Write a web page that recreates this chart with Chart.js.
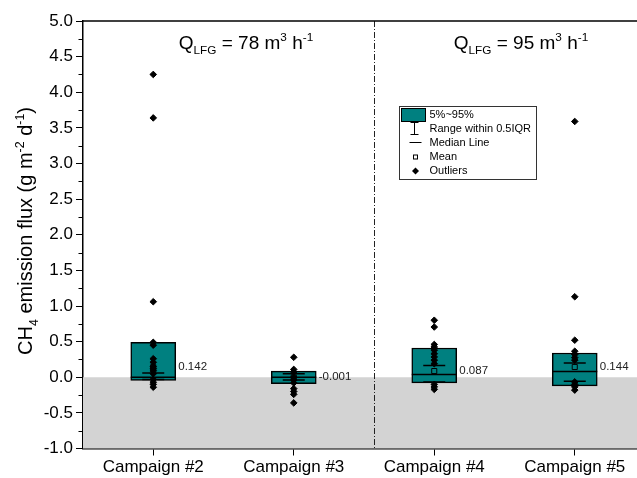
<!DOCTYPE html>
<html>
<head>
<meta charset="utf-8">
<script src="https://cdn.jsdelivr.net/npm/chart.js@4.4.0/dist/chart.umd.min.js"></script>
<style>
  html, body { margin: 0; padding: 0; background: #fff; overflow: hidden; }
  canvas { display: block; }
</style>
</head>
<body>
<canvas id="fluxChart" width="650" height="478"></canvas>
<script>
// box plot stats per campaign (g m-2 d-1)
var campaigns = ['Campaign #2', 'Campaign #3', 'Campaign #4', 'Campaign #5'];
var boxLow  = [-0.045, -0.09, -0.08, -0.12];   // 5%
var boxHigh = [0.49, 0.085, 0.41, 0.34];        // 95%
var medians = [0.0, 0.0, 0.04, 0.08];
var capLow  = [-0.03, -0.04, -0.065, -0.055];
var capHigh = [0.06, 0.05, 0.165, 0.2];
var means   = [0.142, -0.001, 0.087, 0.144];
var meanLabels = ['0.142', '-0.001', '0.087', '0.144'];

var outliers2 = [4.25, 3.64, 1.06, 0.49, 0.45, 0.26, 0.21, 0.15, 0.12, 0.09, 0.05, -0.03, -0.07, -0.1, -0.14];
var outliers3 = [0.28, 0.11, 0.075, 0.0, -0.04, -0.08, -0.16, -0.2, -0.24, -0.36];
var outliers4 = [0.8, 0.705, 0.46, 0.425, 0.38, 0.33, 0.285, 0.24, 0.19, -0.1, -0.135, -0.17];
var outliers5 = [3.59, 1.13, 0.52, 0.365, 0.32, 0.275, 0.24, -0.065, -0.1, -0.135, -0.18];

var yMin = -1, yMax = 5, yStep = 0.5;
var dividerAt = 1.57;   // between #3 and #4, in category units

var fam = "'Liberation Sans', Arial, sans-serif";
var teal = '#008080';

var outlierPts = [];
[outliers2, outliers3, outliers4, outliers5].forEach(function(list, i) {
  list.forEach(function(v) { outlierPts.push({ x: campaigns[i], y: v }); });
});
var meanPts = means.map(function(v, i) { return { x: campaigns[i], y: v }; });

function drawRich(ctx, parts, x, y, size, align) {
  var small = size * 0.62;
  var widths = parts.map(function(p) {
    ctx.font = (p[1] ? small : size) + 'px ' + fam;
    return ctx.measureText(p[0]).width;
  });
  var total = widths.reduce(function(a, b) { return a + b; }, 0);
  var cx = align === 'center' ? x - total / 2 : x;
  ctx.textAlign = 'left';
  ctx.textBaseline = 'alphabetic';
  parts.forEach(function(p, i) {
    ctx.font = (p[1] ? small : size) + 'px ' + fam;
    var dy = p[1] === -1 ? size * 0.28 : (p[1] === 1 ? -size * 0.42 : 0);
    ctx.fillText(p[0], cx, y + dy);
    cx += widths[i];
  });
}

var decor = {
  id: 'decor',
  beforeDatasetsDraw: function(chart) {
    var ctx = chart.ctx, a = chart.chartArea, xs = chart.scales.x, ys = chart.scales.y;
    ctx.save();
    // negative flux band
    ctx.fillStyle = '#d3d3d3';
    var y0 = ys.getPixelForValue(0);
    ctx.fillRect(a.left, y0, a.right - a.left, ys.getPixelForValue(yMin) - y0);
    // dash-dot separator
    var xd = Math.round(xs.getPixelForValue(dividerAt)) + 0.5;
    ctx.strokeStyle = '#222';
    ctx.lineWidth = 1;
    ctx.setLineDash([6, 2, 1, 2]);
    ctx.beginPath();
    ctx.moveTo(xd, a.top);
    ctx.lineTo(xd, a.bottom);
    ctx.stroke();
    ctx.restore();
  },
  afterDatasetDraw: function(chart, args) {
    if (args.index !== 0) return;
    var ctx = chart.ctx, xs = chart.scales.x, ys = chart.scales.y;
    ctx.save();
    ctx.strokeStyle = '#000';
    ctx.lineWidth = 1.5;
    campaigns.forEach(function(c, i) {
      var x = xs.getPixelForValue(i);
      var ym = ys.getPixelForValue(medians[i]);
      ctx.beginPath();
      ctx.moveTo(x - 22.5, ym); ctx.lineTo(x + 22.5, ym);
      [capLow[i], capHigh[i]].forEach(function(v) {
        var yc = ys.getPixelForValue(v);
        ctx.moveTo(x - 11, yc); ctx.lineTo(x + 11, yc);
      });
      ctx.stroke();
    });
    ctx.restore();
  },
  afterDraw: function(chart) {
    var ctx = chart.ctx, a = chart.chartArea, xs = chart.scales.x, ys = chart.scales.y;
    ctx.save();
    // top frame line
    ctx.strokeStyle = '#000';
    ctx.lineWidth = 1.5;
    ctx.beginPath();
    ctx.moveTo(a.left, a.top); ctx.lineTo(a.right, a.top);
    ctx.stroke();
    // minor ticks on y
    ctx.lineWidth = 1;
    ctx.beginPath();
    for (var v = yMin + yStep / 2; v < yMax; v += yStep) {
      var yy = Math.round(ys.getPixelForValue(v)) + 0.5;
      ctx.moveTo(a.left - 4.5, yy); ctx.lineTo(a.left, yy);
    }
    ctx.stroke();

    // mean value labels
    ctx.fillStyle = '#222';
    ctx.font = '11.5px ' + fam;
    ctx.textAlign = 'left';
    ctx.textBaseline = 'middle';
    meanLabels.forEach(function(t, i) {
      ctx.fillText(t, xs.getPixelForValue(i) + 25, ys.getPixelForValue(means[i]));
    });

    // flow rate annotations
    ctx.fillStyle = '#000';
    drawRich(ctx, [['Q', 0], ['LFG', -1], [' = 78 m', 0], ['3', 1], [' h', 0], ['-1', 1]], 246, 48.5, 19, 'center');
    drawRich(ctx, [['Q', 0], ['LFG', -1], [' = 95 m', 0], ['3', 1], [' h', 0], ['-1', 1]], 521, 48.5, 19, 'center');

    // y axis title
    ctx.save();
    ctx.translate(32, 231);
    ctx.rotate(-Math.PI / 2);
    drawRich(ctx, [['CH', 0], ['4', -1], [' emission flux (g m', 0], ['-2', 1], [' d', 0], ['-1', 1], [')', 0]], 0, 0, 20, 'center');
    ctx.restore();

    // legend
    var lx = 399.5, ly = 106.5;
    ctx.strokeStyle = '#333';
    ctx.lineWidth = 1;
    ctx.strokeRect(lx, ly, 137, 73);
    ctx.fillStyle = teal;
    ctx.fillRect(401.5, 108.5, 24, 13);
    ctx.strokeStyle = '#000';
    ctx.strokeRect(401.5, 108.5, 24, 13);
    var sx = 414.5;
    ctx.beginPath();
    ctx.moveTo(sx - 4, 122.5); ctx.lineTo(sx + 4, 122.5);
    ctx.moveTo(sx, 122.5); ctx.lineTo(sx, 134.5);
    ctx.moveTo(sx - 4, 134.5); ctx.lineTo(sx + 4, 134.5);
    ctx.moveTo(sx - 5, 142.5); ctx.lineTo(sx + 7, 142.5);
    ctx.stroke();
    ctx.fillStyle = '#fff';
    ctx.fillRect(413.5, 155, 4, 4);
    ctx.strokeRect(413.5, 155, 4, 4);
    ctx.fillStyle = '#000';
    ctx.beginPath();
    ctx.moveTo(415.5, 167.5); ctx.lineTo(419, 171); ctx.lineTo(415.5, 174.5); ctx.lineTo(412, 171);
    ctx.closePath();
    ctx.fill();
    ctx.font = '11px ' + fam;
    ctx.textAlign = 'left';
    ctx.textBaseline = 'middle';
    ['5%~95%', 'Range within 0.5IQR', 'Median Line', 'Mean', 'Outliers'].forEach(function(t, i) {
      ctx.fillText(t, 429.5, [115, 128.5, 142.5, 157, 171][i]);
    });
    ctx.restore();
  }
};

new Chart(document.getElementById('fluxChart'), {
  type: 'bar',
  data: {
    labels: campaigns,
    datasets: [{
      type: 'bar',
      data: boxLow.map(function(lo, i) { return [lo, boxHigh[i]]; }),
      backgroundColor: teal,
      borderColor: '#000',
      borderWidth: 1.5,
      borderSkipped: false,
      barThickness: 45,
      order: 2
    }, {
      type: 'scatter',
      data: meanPts,
      pointStyle: 'rect',
      pointRadius: 3.6,
      backgroundColor: 'rgba(0,0,0,0)',
      borderColor: '#000',
      borderWidth: 1,
      order: 1
    }, {
      type: 'scatter',
      data: outlierPts,
      pointStyle: 'rectRot',
      pointRadius: 3.3,
      backgroundColor: '#000',
      borderColor: '#000',
      borderWidth: 1,
      order: 0
    }]
  },
  options: {
    responsive: false,
    animation: false,
    events: [],
    layout: { padding: { top: 21, right: 4, left: 0, bottom: 0 } },
    plugins: { legend: { display: false }, tooltip: { enabled: false } },
    scales: {
      x: {
        type: 'category',
        offset: true,
        grid: { display: true, offset: false, drawOnChartArea: false, drawTicks: true, tickLength: 7, color: '#000', lineWidth: 1 },
        border: { display: true, color: '#000', width: 1.5 },
        ticks: { color: '#000', font: { family: fam, size: 17 }, padding: 2, maxRotation: 0, autoSkip: false },
        afterFit: function(s) { s.height = 29.5; }
      },
      y: {
        min: yMin,
        max: yMax,
        grid: { display: true, drawOnChartArea: false, drawTicks: true, tickLength: 7, color: '#000', lineWidth: 1 },
        border: { display: true, color: '#000', width: 1.5 },
        ticks: {
          stepSize: yStep,
          color: '#000',
          font: { family: fam, size: 17 },
          padding: 3,
          callback: function(v) { return v.toFixed(1); }
        },
        afterFit: function(s) { s.width = 83; }
      }
    }
  },
  plugins: [decor]
});
</script>
</body>
</html>
